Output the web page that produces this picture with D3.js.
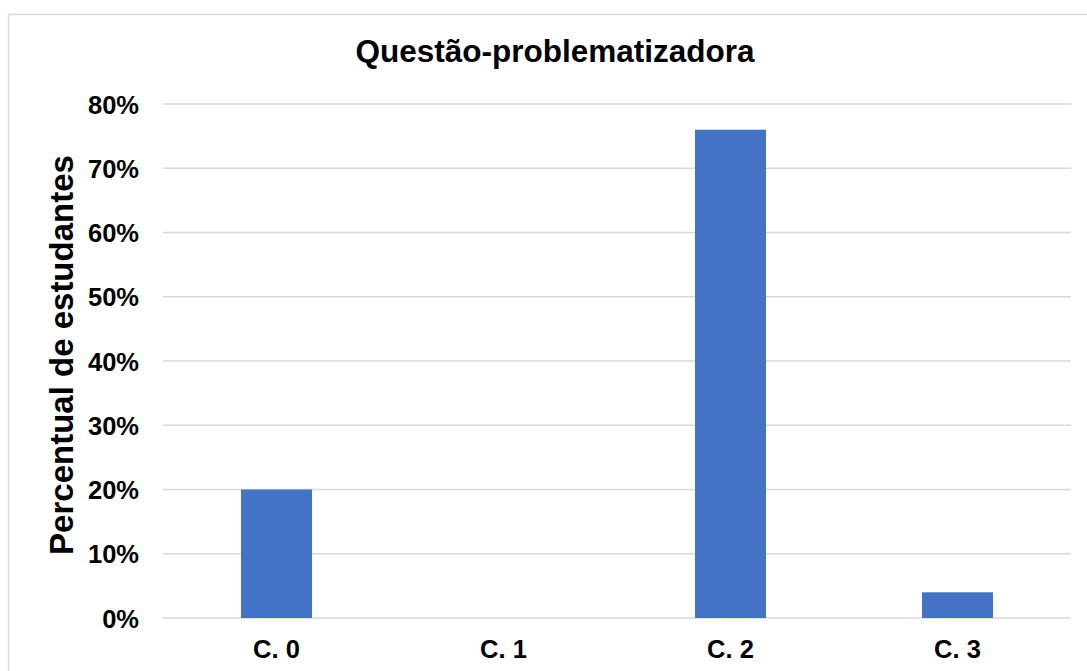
<!DOCTYPE html>
<html>
<head>
<meta charset="utf-8">
<script src="https://cdn.jsdelivr.net/npm/d3@7"></script>
<style>
  body { margin: 0; background: #fff; }
  text { font-family: "Liberation Sans", Arial, sans-serif; font-weight: bold; fill: #000; }
</style>
</head>
<body>
<svg></svg>
<script>
// data
let categories = ["C. 0", "C. 1", "C. 2", "C. 3"];
let values = [0.20, 0, 0.76, 0.04];
let yTicks = [0, 0.1, 0.2, 0.3, 0.4, 0.5, 0.6, 0.7, 0.8];

let width = 1087;
let height = 671;

let plotLeft = 163;
let plotRight = 1071;
let plotTop = 104;
let plotBottom = 618;

let svg = d3.select("svg")
    .attr("width", width)
    .attr("height", height);

// outer frame (runs off the right and bottom edges)
svg.append("rect")
    .attr("x", 8.5)
    .attr("y", 14.5)
    .attr("width", 1100)
    .attr("height", 700)
    .attr("fill", "none")
    .attr("stroke", "#d9d9d9")
    .attr("stroke-width", 1.5);

let xScale = d3.scaleBand()
    .domain(categories)
    .range([plotLeft, plotRight])
    .paddingInner(0.687)
    .paddingOuter(0.687 / 2);

let yScale = d3.scaleLinear()
    .domain([0, 0.8])
    .range([plotBottom, plotTop]);

// gridlines
svg.append("g")
    .selectAll("line")
    .data(yTicks)
    .enter()
    .append("line")
    .attr("x1", plotLeft)
    .attr("x2", plotRight)
    .attr("y1", (d) => yScale(d))
    .attr("y2", (d) => yScale(d))
    .attr("stroke", "#d9d9d9")
    .attr("stroke-width", 1.5);

// bars
svg.append("g")
    .selectAll("rect")
    .data(values)
    .enter()
    .append("rect")
    .attr("x", (d, i) => xScale(categories[i]))
    .attr("width", xScale.bandwidth())
    .attr("y", (d) => yScale(d))
    .attr("height", (d) => yScale(0) - yScale(d))
    .attr("fill", "#4472c4");

// y axis labels
let yAxis = d3.axisLeft(yScale)
    .tickValues(yTicks)
    .tickFormat(d3.format(".0%"))
    .tickSize(0)
    .tickPadding(24);

let yG = svg.append("g")
    .attr("transform", "translate(" + plotLeft + ",0)")
    .call(yAxis);
yG.select(".domain").remove();
yG.selectAll("text")
    .attr("font-size", "25.5px")
    .attr("font-family", null)
    .attr("dy", "0.36em");

// x axis labels
let xAxis = d3.axisBottom(xScale)
    .tickSize(0)
    .tickPadding(22);

let xG = svg.append("g")
    .attr("transform", "translate(0," + plotBottom + ")")
    .call(xAxis);
xG.select(".domain").remove();
xG.selectAll("text")
    .attr("font-size", "25.5px")
    .attr("font-family", null)
    .attr("dy", "0.71em");

// title
svg.append("text")
    .attr("x", (355 + 755) / 2)
    .attr("y", 62)
    .attr("text-anchor", "middle")
    .attr("font-size", "31.5px")
    .text("Questão-problematizadora");

// y axis title
svg.append("text")
    .attr("transform", "translate(73," + ((155 + 555) / 2) + ") rotate(-90)")
    .attr("text-anchor", "middle")
    .attr("font-size", "33px")
    .text("Percentual de estudantes");
</script>
</body>
</html>
